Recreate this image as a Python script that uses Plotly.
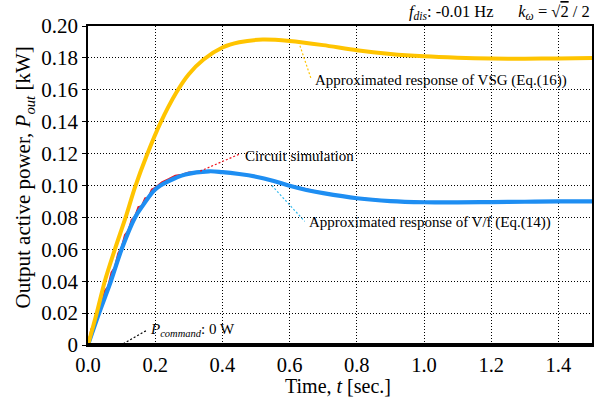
import plotly.graph_objects as go

# Approximated response of VSG (Eq.(16))
t_vsg = [0, 0.026, 0.05, 0.08, 0.112, 0.14, 0.175, 0.215, 0.262, 0.30, 0.344,
         0.40, 0.45, 0.52, 0.60, 0.70, 0.80, 0.90, 1.00, 1.10, 1.20, 1.30, 1.40, 1.50]
p_vsg = [0, 0.020, 0.040, 0.060, 0.080, 0.099, 0.119, 0.139, 0.158, 0.1698, 0.1790,
         0.1865, 0.1898, 0.1915, 0.1906, 0.1880, 0.1848, 0.1825, 0.1810, 0.1801,
         0.1796, 0.1795, 0.1797, 0.1800]

# Approximated response of V/f (Eq.(14))
t_vf = [0, 0.033, 0.068, 0.10, 0.14, 0.165, 0.20, 0.24, 0.29, 0.36, 0.40, 0.45, 0.50,
        0.55, 0.60, 0.65, 0.70, 0.80, 0.90, 1.00, 1.10, 1.20, 1.30, 1.40, 1.50]
p_vf = [0, 0.020, 0.040, 0.060, 0.080, 0.0880, 0.0975, 0.1027, 0.1069, 0.1089,
        0.1084, 0.1072, 0.1055, 0.1030, 0.0998, 0.0972, 0.0952, 0.0920, 0.0902,
        0.0895, 0.0894, 0.0896, 0.0898, 0.0900, 0.0900]

# Circuit simulation (measured, with switching ripple)
t_sim = [0, 0.01, 0.02, 0.03, 0.04, 0.05, 0.06, 0.07, 0.08, 0.09, 0.10, 0.11,
         0.12, 0.13, 0.14, 0.15, 0.16, 0.17, 0.18, 0.19, 0.20, 0.22, 0.24, 0.26,
         0.28, 0.30, 0.35, 0.40, 0.50, 0.60, 0.70, 0.80, 0.90, 1.00, 1.20, 1.40, 1.50]
p_sim = [0, 0.0100, 0.0130, 0.0225, 0.0250, 0.0340, 0.0365, 0.0455, 0.0485, 0.0575,
         0.0610, 0.0690, 0.0715, 0.0785, 0.0805, 0.0865, 0.0870, 0.0920, 0.0925,
         0.0975, 0.0985, 0.1020, 0.1040, 0.1062, 0.1068, 0.1082, 0.1090, 0.1086,
         0.1057, 0.1000, 0.0953, 0.0921, 0.0903, 0.0896, 0.0897, 0.0901, 0.0901]

# Power command
t_cmd = [0, 1.5]
p_cmd = [0, 0]

x_ticks = [0, 0.2, 0.4, 0.6, 0.8, 1.0, 1.2, 1.4]
x_labels = ["0.0", "0.2", "0.4", "0.6", "0.8", "1.0", "1.2", "1.4"]
y_ticks = [0, 0.02, 0.04, 0.06, 0.08, 0.10, 0.12, 0.14, 0.16, 0.18, 0.20]
y_labels = ["0", "0.02", "0.04", "0.06", "0.08", "0.10", "0.12", "0.14", "0.16", "0.18", "0.20"]

FONT = "Liberation Serif"
YELLOW = "#FFC400"
BLUE = "#1E8EF2"
RED = "#F0141E"

fig = go.Figure()
fig.add_trace(go.Scatter(x=t_sim, y=p_sim, mode="lines",
                         line=dict(color=RED, width=2), name="Circuit simulation"))
fig.add_trace(go.Scatter(x=t_vf, y=p_vf, mode="lines",
                         line=dict(color=BLUE, width=4.2, shape="spline", smoothing=1.0),
                         name="V/f"))
fig.add_trace(go.Scatter(x=t_vsg, y=p_vsg, mode="lines",
                         line=dict(color=YELLOW, width=4, shape="spline", smoothing=0.8),
                         name="VSG"))
fig.add_trace(go.Scatter(x=t_cmd, y=p_cmd, mode="lines",
                         line=dict(color="black", width=4), name="Command"))

# leader lines for the labels
leaders = [
    (0.627, 0.1900, 0.663, 0.1675, YELLOW),
    (0.334, 0.1090, 0.454, 0.1200, RED),
    (0.547, 0.1000, 0.645, 0.0775, "#33BBEE"),
    (0.105, 0.0008, 0.175, 0.0092, "black"),
]
for x0, y0, x1, y1, c in leaders:
    fig.add_shape(type="line", x0=x0, y0=y0, x1=x1, y1=y1, xref="x", yref="y",
                  line=dict(color=c, width=1.2, dash="2px,2px"))

labels = [
    (0.669, 0.1660, "Approximated response of VSG (Eq.(16))"),
    (0.461, 0.1185, "Circuit simulation"),
    (0.652, 0.0770, "Approximated response of V/f (Eq.(14))"),
    (0.180, 0.0094, "<i>P</i><sub><i>command</i></sub>: 0 W"),
]
for x, y, txt in labels:
    fig.add_annotation(x=x, y=y, xref="x", yref="y", text=txt, showarrow=False,
                       xanchor="left", yanchor="middle",
                       font=dict(family=FONT, size=15, color="black"))

fig.add_annotation(
    x=1.0, y=1.044, xref="paper", yref="paper", xanchor="right",
    yanchor="middle", showarrow=False,
    text=("<i>f</i><sub><i>dis</i></sub>: -0.01 Hz&nbsp;&nbsp;&nbsp;&nbsp;&nbsp;&nbsp;"
          "<i>k</i><sub><i>ω</i></sub> = √<span style='text-decoration:overline'>2</span> / 2"),
    font=dict(family=FONT, size=16.5, color="black"))

# axis titles
fig.add_annotation(x=0.496, y=-0.128, xref="paper", yref="paper",
                   xanchor="center", yanchor="middle", showarrow=False,
                   text="Time, <i>t</i> [sec.]",
                   font=dict(family=FONT, size=20, color="black"))
fig.add_annotation(x=-0.127, y=0.525, xref="paper", yref="paper",
                   xanchor="center", yanchor="middle", showarrow=False, textangle=-90,
                   text="Output active power, <i>P</i><sub><i>out</i></sub> [kW]",
                   font=dict(family=FONT, size=21, color="black"))

fig.update_layout(
    width=608, height=400,
    margin=dict(l=88, r=16, t=26, b=55),
    paper_bgcolor="white", plot_bgcolor="white",
    showlegend=False,
    font=dict(family=FONT, color="black"),
)
fig.update_xaxes(range=[0, 1.5], tickvals=x_ticks, ticktext=x_labels,
                 tickfont=dict(family=FONT, size=20.5, color="black"),
                 showgrid=True, gridcolor="black", gridwidth=1, griddash="1px,2px",
                 showline=True, linecolor="black", linewidth=1.5, mirror=True,
                 zeroline=False, ticks="outside", ticklen=1, tickcolor="rgba(0,0,0,0)",
                 automargin=False)
fig.update_yaxes(range=[0, 0.2], tickvals=y_ticks, ticktext=y_labels,
                 tickfont=dict(family=FONT, size=21, color="black"),
                 showgrid=True, gridcolor="black", gridwidth=1, griddash="1px,2px",
                 showline=True, linecolor="black", linewidth=1.5, mirror=True,
                 zeroline=False, ticks="outside", ticklen=4, tickcolor="black",
                 automargin=False)

fig.write_html("out.html")
